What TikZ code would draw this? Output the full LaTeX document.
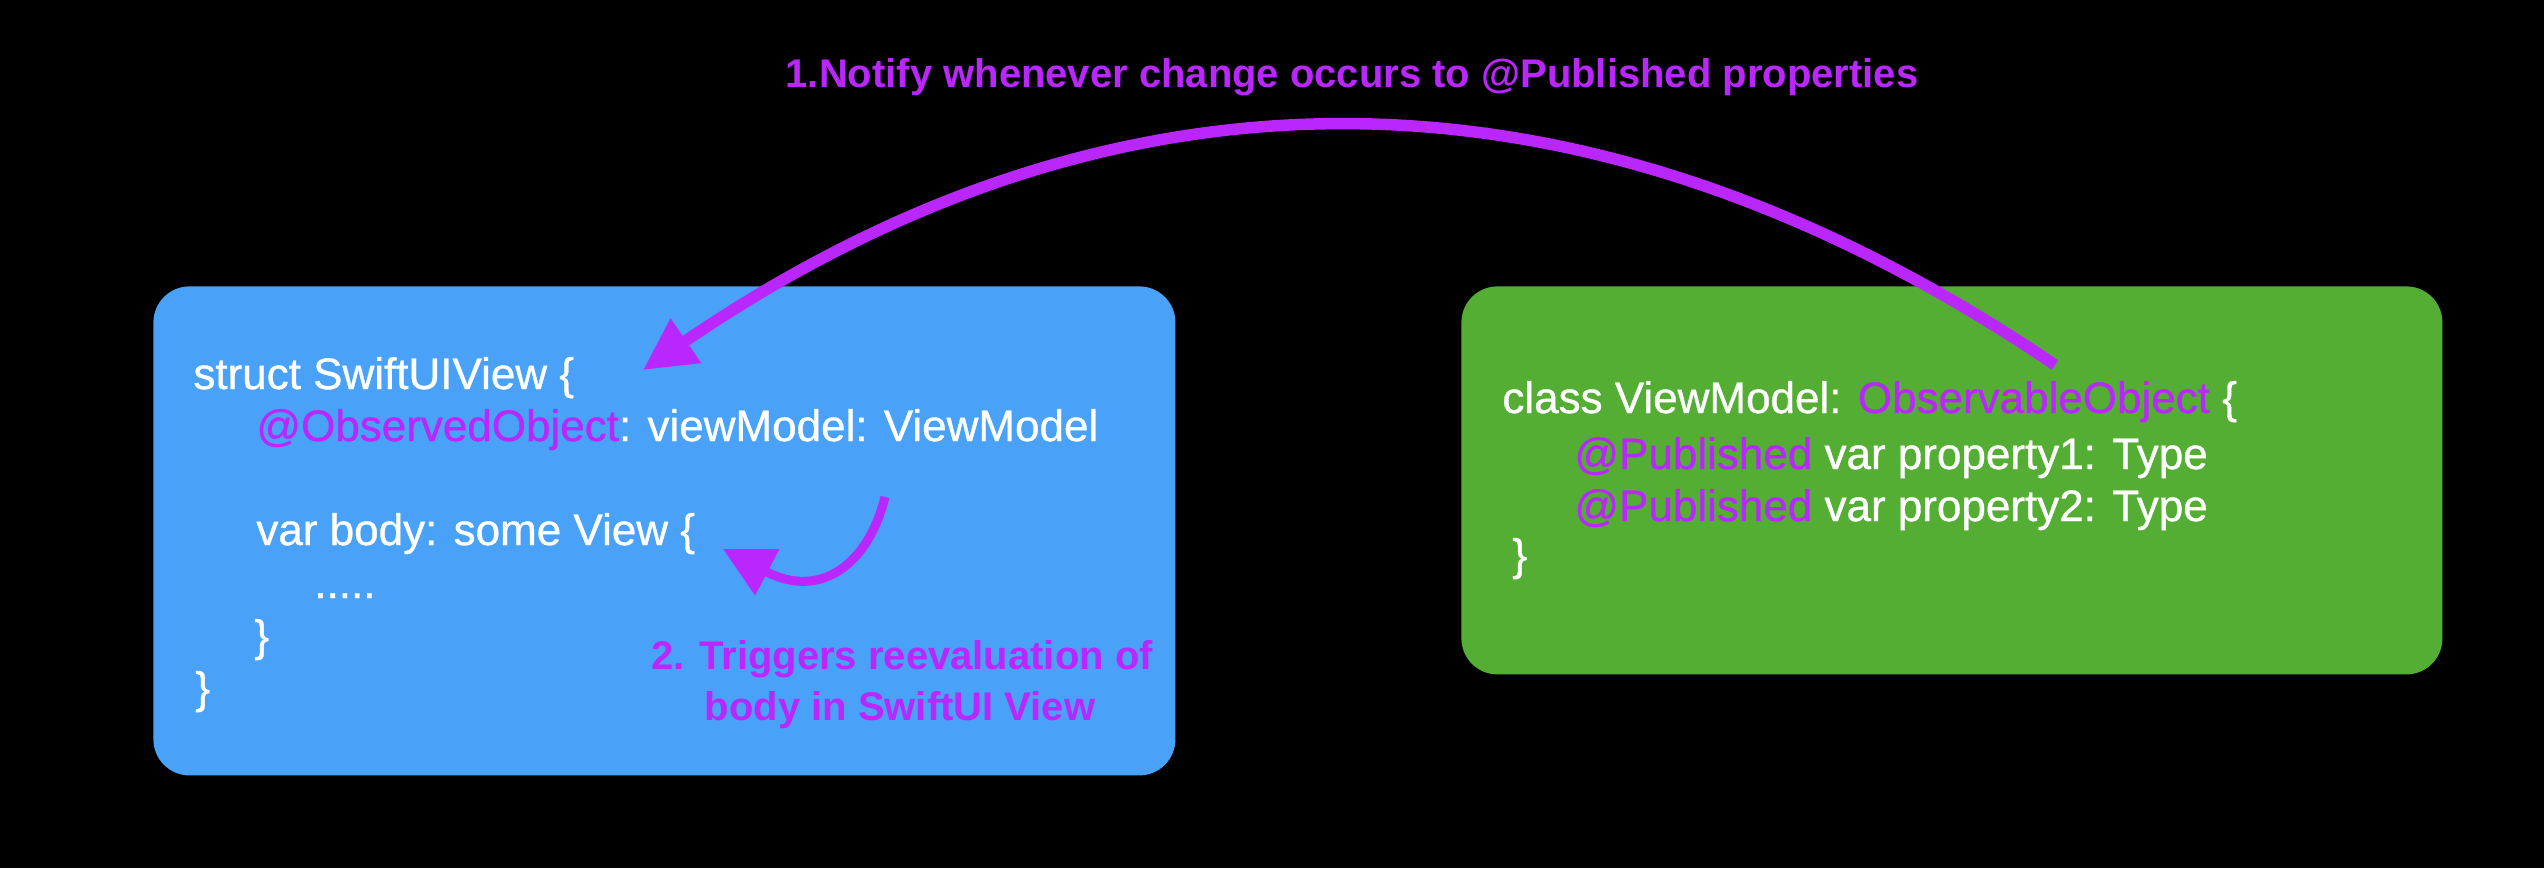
\documentclass[tikz,border=0pt]{standalone}
\usepackage{fontspec}
\setmainfont{Liberation Sans}
\newfontfamily\codefont{Liberation Sans}[FakeBold=0.8]
\usetikzlibrary{arrows.meta}
\definecolor{pur}{RGB}{186,39,253}
\definecolor{blu}{RGB}{74,162,248}
\definecolor{grn}{RGB}{85,174,52}
\begin{document}
\begin{tikzpicture}[x=0.5pt,y=-0.5pt,
  code/.style={inner sep=0pt, anchor=base west, text=white, font=\codefont\fontsize{22pt}{26pt}\selectfont},
  lbl/.style={inner sep=0pt, anchor=base, text=pur, font=\fontsize{20pt}{26pt}\selectfont\bfseries},
  panel/.style={rounded corners=18pt, inner sep=0pt, anchor=north west},
  flow/.style={draw=pur, line width=5.75pt, -{Triangle[length=26pt,width=25.5pt]}}]
\fill[black] (0,0) rectangle (2544,868);
\useasboundingbox (0,0) rectangle (2544,868);
% panels
\node[panel, fill=blu, minimum width=511pt, minimum height=244.5pt] (view) at (153,286) {};
\node[panel, fill=grn, minimum width=490.5pt, minimum height=194pt] (model) at (1461,286) {};
% blue code
\node[code] (v1) at (193,389) {struct SwiftUIView \{};
\node[code] (v2) at (256,441) {\textcolor{pur}{@ObservedObject}: viewModel: ViewModel};
\node[code] (v3) at (256,545) {var body: some View \{};
\node[code] (v4) at (314,598) {.....};
\node[code] (v5) at (254,651) {\}};
\node[code] (v6) at (195,703) {\}};
% green code
\node[code] (m1) at (1502,413) {class ViewModel: \textcolor{pur}{ObservableObject} \{};
\node[code] (m2) at (1574,469) {\textcolor{pur}{@Published} var property1: Type};
\node[code] (m3) at (1574,521) {\textcolor{pur}{@Published} var property2: Type};
\node[code] (m4) at (1512,570) {\}};
% labels
\node[lbl] (title) at (1352,87) {1.Notify whenever change occurs to @Published properties};
\node[lbl] (t1) at (902,669) {2. Triggers reevaluation of};
\node[lbl] (t2) at (900,720) {body in SwiftUI View};
% arrows
\coordinate (nstart) at (2055,365);
\coordinate (ntip) at (643,370);
\draw[flow] (nstart) .. controls (1585,46) and (1114,48) .. (ntip);
\coordinate (tstart) at (885,497);
\coordinate (ttip) at (723,549);
\draw[flow, line width=4.5pt, -{Triangle[length=25pt,width=25pt]}] (tstart) .. controls (868,565) and (820,600) .. (ttip);
\end{tikzpicture}
\end{document}
